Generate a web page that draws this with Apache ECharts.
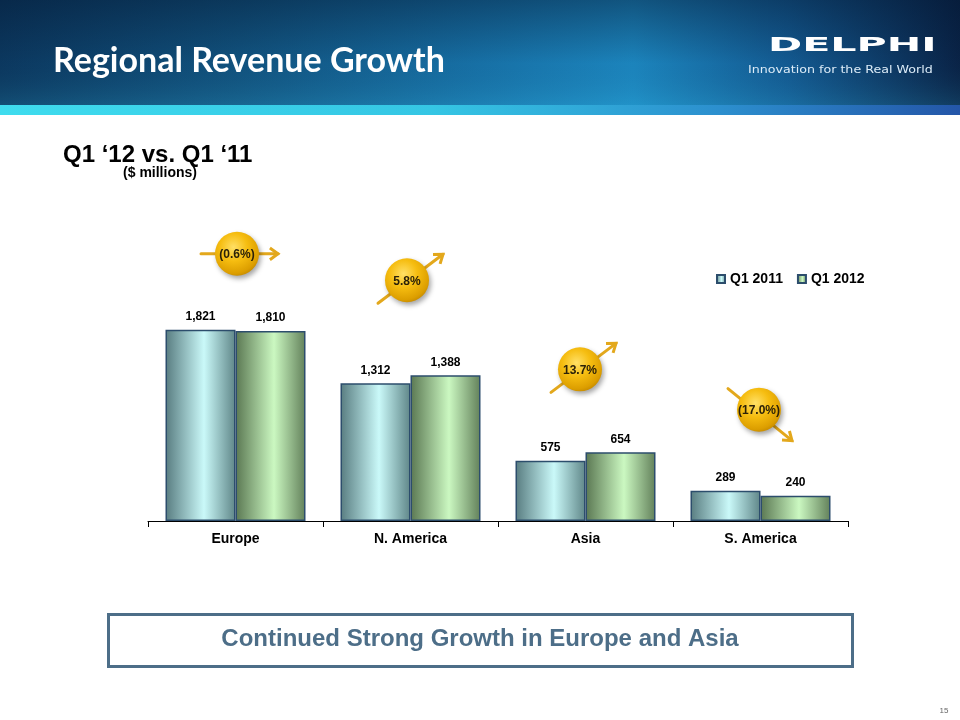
<!DOCTYPE html>
<html>
<head>
<meta charset="utf-8">
<script src="https://cdn.jsdelivr.net/npm/echarts@6/dist/echarts.min.js"></script>
<style>
html,body{margin:0;padding:0;background:#fff;}
#main{width:960px;height:720px;}
</style>
</head>
<body>
<div id="main"></div>
<script>
const categories = ['Europe', 'N. America', 'Asia', 'S. America'];
const q1_2011 = [1821, 1312, 575, 289];
const q1_2012 = [1810, 1388, 654, 240];
const growthLabels = ['(0.6%)', '5.8%', '13.7%', '(17.0%)'];
const growthTrend = ['flat', 'up', 'up', 'down'];
const seriesNames = ['Q1 2011', 'Q1 2012'];

const chart = echarts.init(document.getElementById('main'), null, {renderer: 'canvas'});

const FONT = '"Liberation Sans", Arial, sans-serif';

function barGradient(dark, light, dark2) {
  return new echarts.graphic.LinearGradient(0, 0, 1, 0, [
    {offset: 0, color: dark},
    {offset: 0.55, color: light},
    {offset: 1, color: dark2}
  ]);
}

// bubble layout relative to the taller bar of each category (pixel offsets)
const bubbleOffset = [[1.5, -76], [-3.5, -95], [-5.5, -83], [-1.5, -81]];
const arrowSeg = {
  flat: [[-36, 0], [41, 0]],
  up: [[-29, 23], [36, -26]],
  down: [[-31, -21], [33, 31]]
};

function arrowHead(x2, y2, x1, y1, len) {
  const a = Math.atan2(y2 - y1, x2 - x1);
  const p1 = [x2 + len * Math.cos(a + Math.PI * 0.8), y2 + len * Math.sin(a + Math.PI * 0.8)];
  const p2 = [x2 + len * Math.cos(a - Math.PI * 0.8), y2 + len * Math.sin(a - Math.PI * 0.8)];
  return [p1, [x2, y2], p2];
}

function renderBubble(params, api) {
  const i = params.dataIndex;
  const p = api.coord([api.value(0), api.value(1)]);
  const cx = p[0] + bubbleOffset[i][0];
  const cy = p[1] + bubbleOffset[i][1];
  const seg = arrowSeg[growthTrend[i]];
  const x1 = cx + seg[0][0], y1 = cy + seg[0][1];
  const x2 = cx + seg[1][0], y2 = cy + seg[1][1];
  const arrowColor = '#e3a81c';
  return {
    type: 'group',
    children: [
      {type: 'line', shape: {x1: x1, y1: y1, x2: x2, y2: y2},
        style: {stroke: arrowColor, lineWidth: 3, lineCap: 'round'}},
      {type: 'polyline', shape: {points: arrowHead(x2, y2, x1, y1, 10)},
        style: {stroke: arrowColor, lineWidth: 3, fill: null, lineJoin: 'miter', lineCap: 'butt'}},
      {type: 'circle', shape: {cx: cx, cy: cy, r: 22},
        style: {
          fill: new echarts.graphic.RadialGradient(0.42, 0.35, 0.7, [
            {offset: 0, color: '#ffe066'},
            {offset: 0.45, color: '#f6bd10'},
            {offset: 0.85, color: '#dc9e00'},
            {offset: 1, color: '#c08600'}
          ]),
          shadowBlur: 5, shadowOffsetX: 2, shadowOffsetY: 3, shadowColor: 'rgba(0,0,0,0.35)'
        }},
      {type: 'text',
        style: {text: growthLabels[i], x: cx, y: cy + 1, textAlign: 'center', textVerticalAlign: 'middle',
          font: 'bold 12px ' + FONT, fill: '#2b2108'}}
    ]
  };
}

const headerGraphics = [
  {type: 'rect', left: 0, top: 0, z: -10, silent: true, shape: {width: 960, height: 106},
    style: {fill: new echarts.graphic.LinearGradient(0, 0, 1, 0, [
      {offset: 0, color: '#0c3a62'},
      {offset: 0.25, color: '#125683'},
      {offset: 0.5, color: '#1875ac'},
      {offset: 0.66, color: '#1d8ac4'},
      {offset: 0.82, color: '#145e97'},
      {offset: 1, color: '#0a2448'}
    ])}},
  {type: 'rect', left: 0, top: 0, z: -9, silent: true, shape: {width: 960, height: 106},
    style: {fill: new echarts.graphic.LinearGradient(0, 0, 0, 1, [
      {offset: 0, color: 'rgba(3,20,45,0.45)'},
      {offset: 0.6, color: 'rgba(3,20,45,0.05)'},
      {offset: 1, color: 'rgba(60,200,230,0.15)'}
    ])}},
  {type: 'rect', left: 0, top: 105, z: -8, silent: true, shape: {width: 960, height: 10},
    style: {fill: new echarts.graphic.LinearGradient(0, 0, 1, 0, [
      {offset: 0, color: '#3fdcee'},
      {offset: 0.45, color: '#35c6e4'},
      {offset: 0.75, color: '#2c8fce'},
      {offset: 1, color: '#2456a8'}
    ])}},
  {type: 'text', x: 53, y: 61, z: 5, silent: true,
    style: {text: 'Regional Revenue Growth', textVerticalAlign: 'middle', font: 'bold 34px Lato, "Open Sans", sans-serif', fill: '#ffffff',
      shadowBlur: 3, shadowOffsetX: 2, shadowOffsetY: 2, shadowColor: 'rgba(0,0,0,0.6)'}},
  {type: 'text', x: 768, y: 36, z: 5, silent: true, scaleX: 2.06,
    style: {text: 'DELPHI', font: 'bold 20px "DejaVu Sans", sans-serif', fill: '#ffffff'}},
  {type: 'text', x: 748, y: 65, z: 5, silent: true, scaleX: 1.15,
    style: {text: 'Innovation for the Real World', font: '11px "DejaVu Sans", sans-serif', fill: '#dcecf8'}},
  {type: 'text', x: 63, y: 155, silent: true,
    style: {text: 'Q1 \u201812 vs. Q1 \u201811', textVerticalAlign: 'middle', font: 'bold 24px ' + FONT, fill: '#000'}},
  {type: 'text', x: 160, y: 173, silent: true,
    style: {text: '($ millions)', textAlign: 'center', textVerticalAlign: 'middle', font: 'bold 14px ' + FONT, fill: '#000'}},
  {type: 'rect', left: 107, top: 613, silent: true, shape: {x: 0, y: 0, width: 744, height: 52},
    style: {fill: '#fff', stroke: '#4d6e88', lineWidth: 3}},
  {type: 'text', x: 480, y: 639, silent: true,
    style: {text: 'Continued Strong Growth in Europe and Asia', textAlign: 'center', textVerticalAlign: 'middle',
      font: 'bold 24px ' + FONT, fill: '#4d6e88'}},
  {type: 'text', x: 944, y: 711, silent: true,
    style: {text: '15', textAlign: 'center', textVerticalAlign: 'middle', font: '8px ' + FONT, fill: '#666'}}
];

const option = {
  animation: false,
  backgroundColor: '#ffffff',
  graphic: headerGraphics,
  legend: {
    data: seriesNames,
    left: 716, top: 272, padding: 0,
    itemWidth: 8, itemHeight: 8, itemGap: 14,
    icon: 'rect',
    textStyle: {fontFamily: FONT, fontWeight: 'bold', fontSize: 14, color: '#000'}
  },
  grid: {left: 148, right: 112, top: 311, bottom: 199, containLabel: false},
  xAxis: {
    type: 'category',
    data: categories,
    axisLine: {lineStyle: {color: '#000', width: 1}},
    axisTick: {show: true, length: 6, lineStyle: {color: '#000'}},
    axisLabel: {fontFamily: FONT, fontWeight: 'bold', fontSize: 14, color: '#000', margin: 11}
  },
  yAxis: {type: 'value', min: 0, max: 2000, show: false, splitLine: {show: false}},
  series: [
    {
      name: seriesNames[0], type: 'bar', data: q1_2011,
      barGap: '0%', barCategoryGap: '20%',
      itemStyle: {color: barGradient('#587c80', '#caf9f9', '#5f8688'), borderColor: '#2c4d6c', borderWidth: 1.5},
      label: {show: true, position: 'top', distance: 7, fontFamily: FONT, fontWeight: 'bold', fontSize: 12, color: '#000',
        formatter: p => p.value.toLocaleString('en-US')}
    },
    {
      name: seriesNames[1], type: 'bar', data: q1_2012,
      barGap: '0%', barCategoryGap: '20%',
      itemStyle: {color: barGradient('#5a7752', '#cbf8c1', '#62805a'), borderColor: '#2c4d6c', borderWidth: 1.5},
      label: {show: true, position: 'top', distance: 7, fontFamily: FONT, fontWeight: 'bold', fontSize: 12, color: '#000',
        formatter: p => p.value.toLocaleString('en-US')}
    },
    {
      name: 'growth', type: 'custom', coordinateSystem: 'cartesian2d', clip: false, z: 5,
      renderItem: renderBubble,
      encode: {x: 0, y: 1},
      data: categories.map((c, i) => [i, Math.max(q1_2011[i], q1_2012[i])])
    }
  ]
};
chart.setOption(option);
</script>
</body>
</html>
